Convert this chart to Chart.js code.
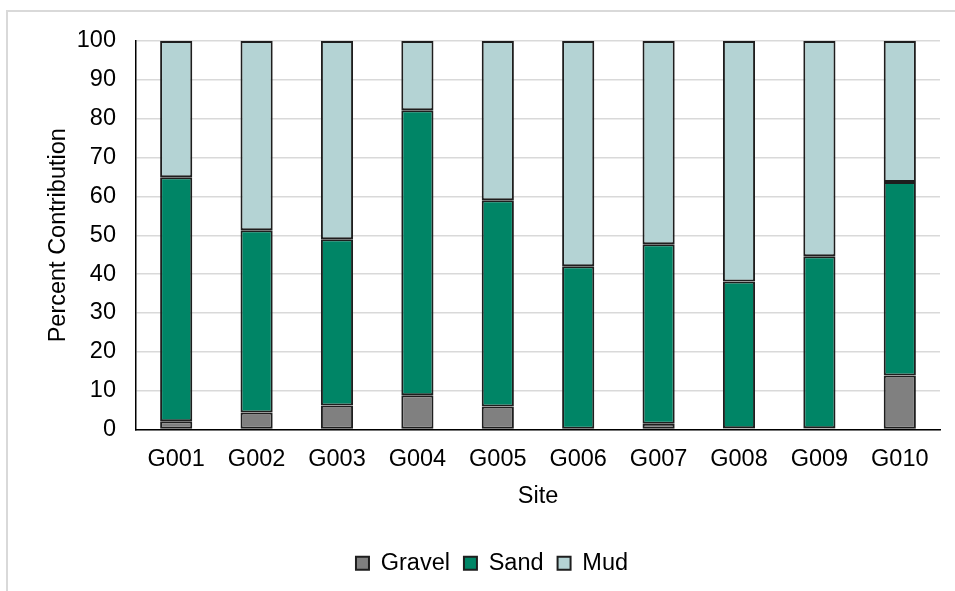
<!DOCTYPE html>
<html>
<head>
<meta charset="utf-8">
<script src="https://cdn.jsdelivr.net/npm/chart.js@4/dist/chart.umd.min.js"></script>
<style>
  html, body { margin: 0; padding: 0; background: #fff; }
  #wrap { position: relative; width: 955px; height: 591px; }
  #frame { position: absolute; left: 6px; top: 10px; width: 960px; height: 600px;
           border-top: 2px solid #d9d9d9; border-left: 2px solid #d9d9d9; }
  canvas { position: absolute; left: 0; top: 0; }
</style>
</head>
<body>
<div id="wrap">
  <div id="frame"></div>
  <canvas id="grainChart" width="955" height="591"></canvas>
</div>
<script>
const sites = ['G001', 'G002', 'G003', 'G004', 'G005', 'G006', 'G007', 'G008', 'G009', 'G010'];
const gravel = [2.1, 4.4, 6.2, 8.8, 5.9, 0.2, 1.5, 0.3, 0.3, 13.9];
const sand = [62.8, 46.9, 42.8, 73.4, 53.1, 41.8, 46.2, 37.8, 44.3, 49.8];
const mud = [35.1, 48.7, 51.0, 17.8, 41.0, 58.0, 52.3, 61.9, 55.4, 36.3];
const yTicks = [0, 10, 20, 30, 40, 50, 60, 70, 80, 90, 100];

const fontFam = '"Liberation Sans", Arial, sans-serif';
const fontSize = 23.5;
const edge = '#1e1e1e';

function serie(label, data, color) {
    return {
        label: label,
        data: data,
        backgroundColor: color,
        borderColor: edge,
        borderWidth: 2,
        borderSkipped: false,
        barPercentage: 0.4,
        categoryPercentage: 1.0
    };
}

const ctx = document.getElementById('grainChart').getContext('2d');

new Chart(ctx, {
    type: 'bar',
    data: {
        labels: sites,
        datasets: [
            serie('Gravel', gravel, '#808080'),
            serie('Sand', sand, '#008566'),
            serie('Mud', mud, '#b4d3d4')
        ]
    },
    options: {
        responsive: false,
        animation: false,
        // left padding keeps the legend centred where the original has it
        layout: { padding: { top: 41, right: 15, bottom: 6, left: 44 } },
        plugins: {
            tooltip: { enabled: false },
            legend: {
                position: 'bottom',
                labels: {
                    color: '#000',
                    font: { family: fontFam, size: fontSize },
                    boxWidth: 13,
                    boxHeight: 13,
                    padding: 14,
                    useBorderRadius: false
                }
            }
        },
        scales: {
            x: {
                stacked: true,
                grid: { display: false, drawTicks: false },
                border: { color: '#000', width: 1.5 },
                ticks: { color: '#000', font: { family: fontFam, size: fontSize }, padding: 16 },
                title: { display: true, text: 'Site', color: '#000', font: { family: fontFam, size: fontSize }, padding: { top: 10, bottom: 27 } },
                afterFit: (scale) => { scale.height = 108; }
            },
            y: {
                stacked: true,
                min: 0,
                max: 100,
                afterBuildTicks: (scale) => { scale.ticks = yTicks.map(v => ({ value: v })); },
                grid: { color: '#d9d9d9', lineWidth: 1.5, drawTicks: false },
                border: { color: '#000', width: 1.5 },
                ticks: { color: '#000', font: { family: fontFam, size: fontSize }, padding: 20 },
                title: { display: true, text: 'Percent Contribution', color: '#000', font: { family: fontFam, size: fontSize }, padding: { top: 0, bottom: 0 } },
                afterFit: (scale) => { scale.width = 92; }
            }
        }
    }
});
</script>
</body>
</html>
